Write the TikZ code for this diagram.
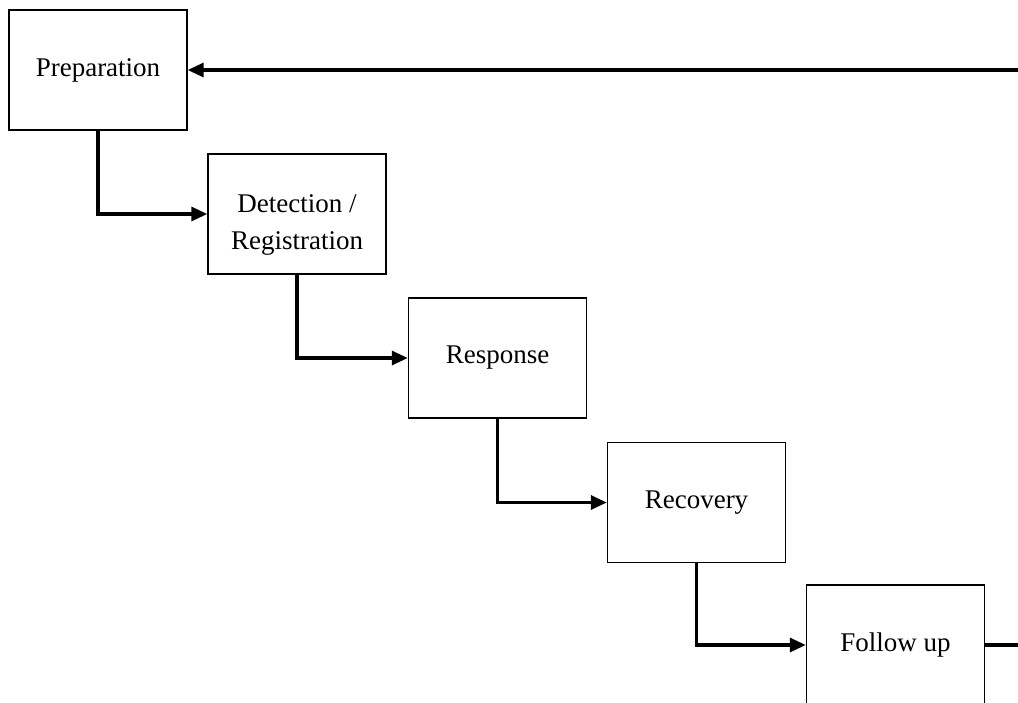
\documentclass[tikz,border=0pt]{standalone}
\usepackage{fontspec}
\setmainfont{Liberation Serif}
\usetikzlibrary{arrows.meta}

\begin{document}
\begin{tikzpicture}[x=1pt,y=-1pt,
        phase/.style={draw,line width=1.4pt,minimum width=178pt,minimum height=120pt,
            inner sep=0pt,align=center,font=\fontsize{27}{37}\selectfont},
        flow/.style={line width=3.2pt,-{Triangle[length=16pt,width=14pt]}}]
        % Area visibile
        \useasboundingbox (0,0) rectangle (1018,702);
        \clip (0,0) rectangle (1018,702);

        % Fasi
        \node[phase] (prep) at (98,70) {Preparation};
        \node[phase] (detect) at (297,214) {\rule{0pt}{39pt}Detection /\\Registration};
        \node[phase] (resp) at (497.5,358) {Response};
        \node[phase] (recov) at (696.5,502.5) {Recovery};
        \node[phase] (follow) at (895.5,645) {Follow up};

        % Passaggi tra le fasi
        \draw[flow] (prep.south) |- (detect.west);
        \draw[flow] (detect.south) |- (resp.west);
        \draw[flow] (resp.south) |- (recov.west);
        \draw[flow] (recov.south) |- (follow.west);

        % Ritorno alla preparazione
        \coordinate (back) at (1040,70);
        \draw[flow] (follow.east) -| (back) -- (prep.east);
    \end{tikzpicture}
\end{document}
